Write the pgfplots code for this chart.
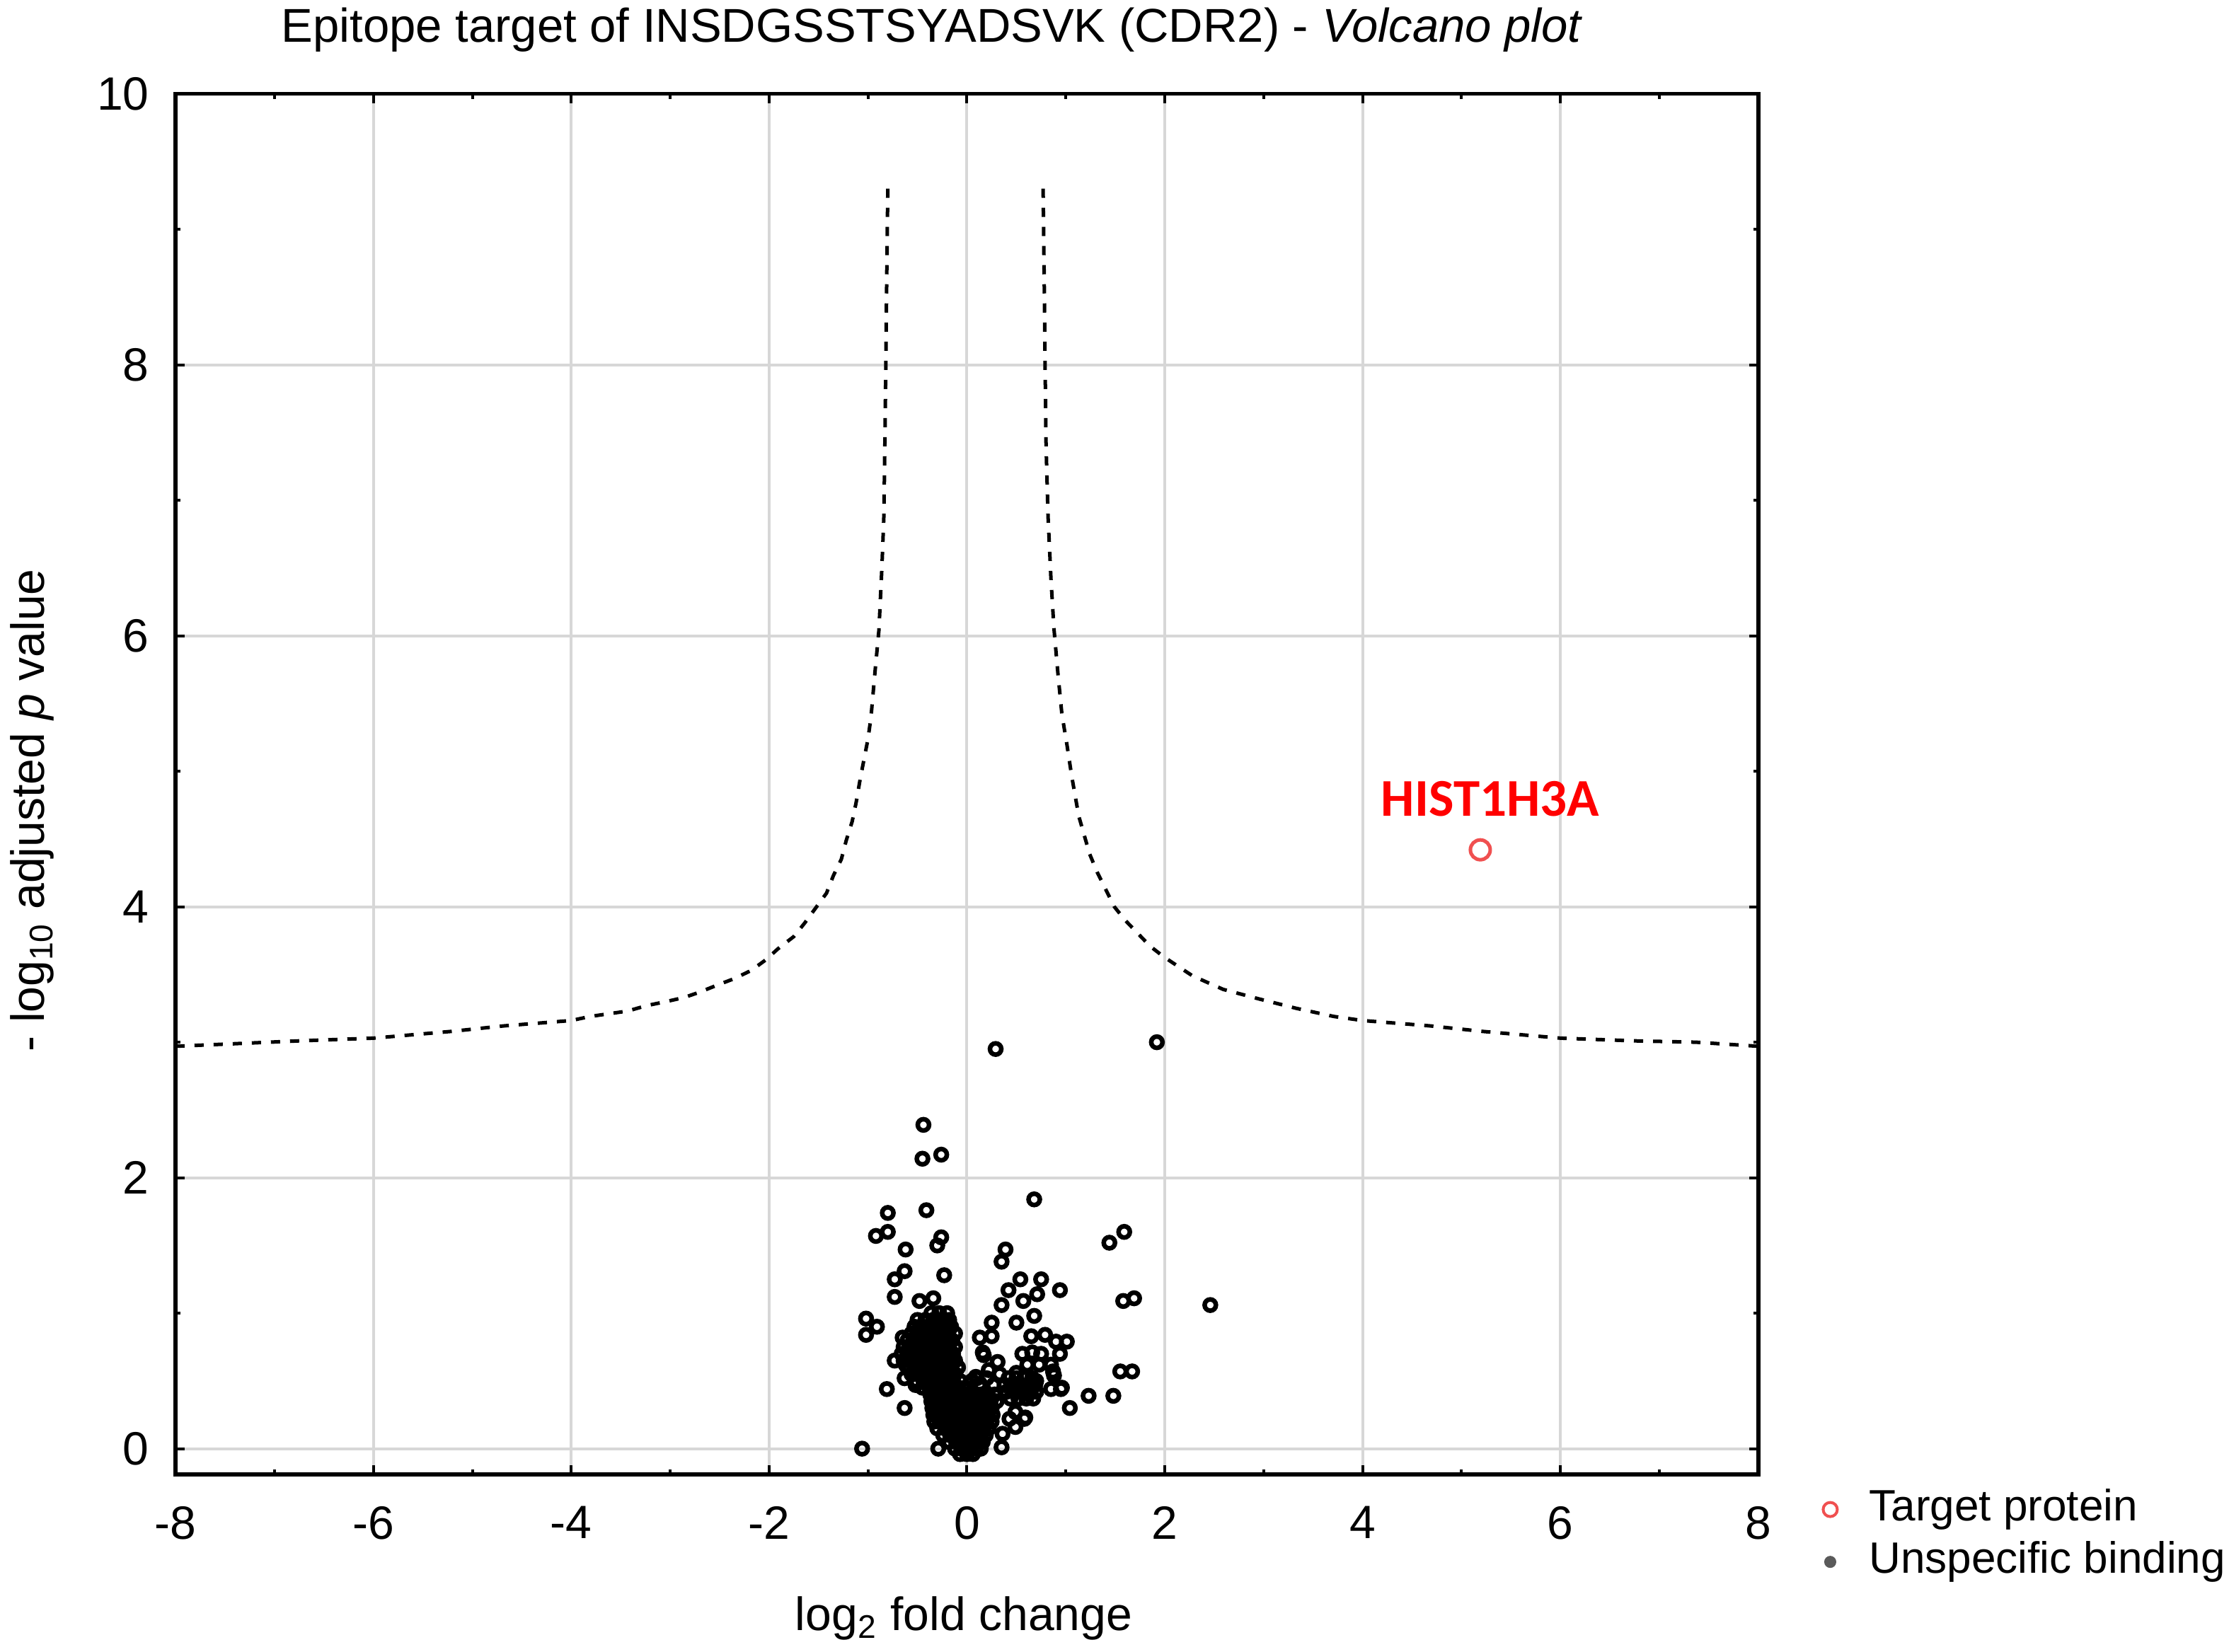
\documentclass[border=0pt]{standalone}
\usepackage{fontspec}
\setmainfont{Liberation Sans}
\newfontfamily\carlito{Carlito}
\usepackage{pgfplots}
\usepackage{pgfplotstable}
\pgfplotsset{compat=1.18}
\definecolor{gridgrey}{RGB}{215,215,215}
\definecolor{tred}{RGB}{240,80,80}
\definecolor{dotgrey}{RGB}{90,90,90}
\newcommand\fs{\fontsize{13.2pt}{15.8pt}\selectfont}
\newcommand\fl{\fontsize{12.4pt}{14.9pt}\selectfont}
\newcommand\ft{\fontsize{13.4pt}{16pt}\selectfont}

\pgfplotstableread{
x y
0.77 9.30
0.78 8.70
0.79 8.00
0.80 7.40
0.82 6.88
0.85 6.41
0.88 6.05
0.92 5.72
0.96 5.42
1.01 5.20
1.06 4.96
1.13 4.67
1.24 4.39
1.32 4.25
1.49 4.00
1.60 3.90
1.85 3.71
1.99 3.63
2.28 3.49
2.59 3.39
2.95 3.32
3.33 3.25
3.71 3.19
4.00 3.16
4.69 3.12
5.21 3.08
6.00 3.03
6.75 3.01
7.37 3.00
8.00 2.97
}\curveR

\pgfplotstableread{
x y
-0.80 9.30
-0.81 8.70
-0.82 8.00
-0.83 7.40
-0.84 6.88
-0.86 6.50
-0.89 6.04
-0.93 5.73
-0.97 5.40
-1.00 5.24
-1.04 5.09
-1.08 4.94
-1.12 4.77
-1.16 4.63
-1.22 4.49
-1.27 4.35
-1.35 4.23
-1.42 4.10
-1.52 4.00
-1.64 3.88
-1.75 3.78
-1.91 3.69
-2.03 3.61
-2.18 3.53
-2.35 3.47
-2.53 3.42
-2.70 3.37
-2.86 3.33
-3.04 3.30
-3.24 3.27
-3.43 3.23
-3.62 3.21
-3.81 3.19
-4.00 3.16
-4.69 3.12
-5.21 3.08
-6.00 3.03
-6.75 3.01
-7.37 2.99
-8.00 2.97
}\curveL

% sparse points
\pgfplotstableread{
x y
0.29 2.95
1.92 3.00
-0.44 2.39
-0.45 2.14
-0.26 2.17
0.68 1.84
-0.80 1.74
-0.41 1.76
-0.92 1.57
-0.80 1.60
-0.26 1.56
-0.30 1.50
-0.62 1.47
0.39 1.47
0.35 1.38
1.59 1.60
1.44 1.52
-0.63 1.31
-0.73 1.25
-0.23 1.28
0.54 1.25
0.75 1.25
0.42 1.17
0.94 1.17
0.71 1.14
-0.73 1.12
-0.48 1.09
-0.34 1.11
0.35 1.06
0.57 1.09
1.58 1.09
1.69 1.11
2.46 1.06
-1.02 0.96
-0.91 0.90
-1.02 0.84
0.68 0.98
0.50 0.93
0.25 0.93
0.13 0.82
0.25 0.83
-0.65 0.82
0.65 0.83
0.79 0.84
0.90 0.79
1.01 0.79
0.56 0.70
0.66 0.71
0.75 0.70
0.94 0.70
0.17 0.69
0.31 0.64
-0.73 0.65
-0.62 0.62
0.85 0.62
0.87 0.57
1.55 0.57
1.67 0.57
0.10 0.52
0.50 0.56
-0.63 0.52
-0.52 0.47
0.70 0.50
0.85 0.44
0.95 0.44
-0.81 0.44
1.23 0.39
1.48 0.39
1.04 0.30
-0.63 0.30
0.43 0.22
0.58 0.22
0.36 0.11
0.35 0.01
-1.06 0.00
-0.29 0.00
0.49 0.16
0.22 0.58
0.09 0.53
0.16 0.71
0.88 0.54
0.96 0.45
0.59 0.23
0.49 0.27
0.61 0.62
0.73 0.62
}\pts

% dense cluster near the origin
\pgfplotstableread{
x y
-0.36 1.00
-0.28 1.00
-0.20 1.00
-0.50 0.95
-0.42 0.95
-0.34 0.95
-0.26 0.95
-0.18 0.95
-0.53 0.90
-0.46 0.90
-0.39 0.90
-0.31 0.90
-0.24 0.90
-0.16 0.90
-0.56 0.85
-0.49 0.85
-0.41 0.85
-0.34 0.85
-0.27 0.85
-0.19 0.85
-0.12 0.85
-0.60 0.80
-0.52 0.80
-0.45 0.80
-0.38 0.80
-0.30 0.80
-0.23 0.80
-0.15 0.80
-0.64 0.75
-0.56 0.75
-0.49 0.75
-0.42 0.75
-0.34 0.75
-0.27 0.75
-0.20 0.75
-0.12 0.75
-0.66 0.70
-0.58 0.70
-0.51 0.70
-0.44 0.70
-0.36 0.70
-0.29 0.70
-0.22 0.70
-0.14 0.70
-0.64 0.65
-0.56 0.65
-0.49 0.65
-0.42 0.65
-0.34 0.65
-0.27 0.65
-0.20 0.65
-0.12 0.65
-0.60 0.60
-0.52 0.60
-0.45 0.60
-0.38 0.60
-0.30 0.60
-0.23 0.60
-0.16 0.60
-0.09 0.60
-0.56 0.55
-0.49 0.55
-0.41 0.55
-0.34 0.55
-0.27 0.55
-0.19 0.55
-0.12 0.55
-0.51 0.50
-0.44 0.50
-0.36 0.50
-0.29 0.50
-0.22 0.50
-0.14 0.50
-0.07 0.50
-0.45 0.45
-0.38 0.45
-0.31 0.45
-0.24 0.45
-0.16 0.45
-0.09 0.45
-0.02 0.45
-0.37 0.40
-0.30 0.40
-0.23 0.40
-0.15 0.40
-0.08 0.40
0.00 0.40
0.07 0.40
0.14 0.40
0.21 0.40
0.28 0.40
-0.36 0.35
-0.29 0.35
-0.21 0.35
-0.14 0.35
-0.06 0.35
0.01 0.35
0.09 0.35
0.16 0.35
0.24 0.35
0.30 0.35
-0.35 0.30
-0.28 0.30
-0.20 0.30
-0.13 0.30
-0.05 0.30
0.02 0.30
0.10 0.30
0.17 0.30
0.25 0.30
-0.34 0.25
-0.27 0.25
-0.19 0.25
-0.12 0.25
-0.04 0.25
0.03 0.25
0.11 0.25
0.18 0.25
0.26 0.25
-0.33 0.20
-0.26 0.20
-0.18 0.20
-0.11 0.20
-0.03 0.20
0.04 0.20
0.12 0.20
0.19 0.20
0.25 0.20
-0.30 0.15
-0.22 0.15
-0.15 0.15
-0.07 0.15
0.00 0.15
0.08 0.15
0.15 0.15
0.22 0.15
-0.24 0.10
-0.17 0.10
-0.10 0.10
-0.02 0.10
0.05 0.10
0.12 0.10
0.19 0.10
-0.18 0.05
-0.11 0.05
-0.04 0.05
0.03 0.05
0.10 0.05
0.16 0.05
-0.12 0.00
-0.05 0.00
0.02 0.00
0.09 0.00
0.14 0.00
-0.07 -0.04
0.00 -0.04
0.06 -0.04
0.05 0.50
0.13 0.48
0.20 0.52
0.27 0.47
0.33 0.55
0.42 0.52
0.50 0.52
0.58 0.52
0.66 0.52
0.38 0.47
0.46 0.47
0.54 0.47
0.62 0.47
0.69 0.47
0.40 0.42
0.48 0.42
0.56 0.42
0.64 0.42
0.70 0.42
0.44 0.37
0.52 0.37
0.60 0.37
0.67 0.37
}\dense

\begin{document}
\begin{tikzpicture}
\begin{axis}[
  scale only axis, width=447pt, height=390pt,
  xmin=-8, xmax=8, ymin=-0.19, ymax=10,
  xtick={-8,-6,...,8}, xticklabels={-8,-6,-4,-2,0,2,4,6,8},
  ytick={0,2,...,10}, yticklabels={0,2,4,6,8,10},
  minor x tick num=1, minor y tick num=1,
  tick align=inside, major tick length=2.6pt, minor tick length=1.4pt,
  tick style={black, line width=0.8pt},
  grid=major, major grid style={gridgrey, line width=0.8pt},
  axis line style={line width=1.1pt},
  ticklabel style={font=\fs},
  xticklabel style={yshift=-5.5pt},
  yticklabel style={xshift=-4pt},
  xlabel={log\textsubscript{2} fold change},
  ylabel={- log\textsubscript{10} adjusted \textit{p} value},
  xlabel style={font=\fs, at={(axis description cs:0.498,-0.104)}, anchor=center},
  ylabel style={font=\fs, at={(axis description cs:-0.0905,0.481)}, anchor=center, inner sep=3pt},
  title={Epitope target of INSDGSSTSYADSVK (CDR2) - \textit{Volcano plot}},
  title style={font=\ft, at={(axis description cs:0.478,1)}, anchor=base, yshift=8.6pt, inner sep=2.2pt},
  legend style={at={(axis description cs:1.041,-0.008)}, anchor=north west, draw=none, fill=none, font=\fl,
     inner sep=0pt, outer sep=0pt,
     nodes={inner sep=1pt, text height=9pt, text depth=2.6pt}, row sep=1.2pt, column sep=8pt},
  legend cell align=left,
]
\addlegendimage{only marks, mark=o, mark size=2pt, mark options={tred, line width=0.8pt}}
\addlegendentry{Target protein}
\addlegendimage{only marks, mark=*, mark size=1.5pt, mark options={dotgrey, draw=dotgrey}}
\addlegendentry{Unspecific binding}

\addplot[forget plot, black, line width=1pt, dash pattern=on 2.6pt off 2.8pt] table {\curveR};
\addplot[forget plot, black, line width=1pt, dash pattern=on 2.6pt off 2.8pt] table {\curveL};
\addplot[forget plot, only marks, mark=o, mark size=1.6pt, mark options={black, line width=1.3pt}] table {\pts};
\addplot[forget plot, only marks, mark=o, mark size=1.6pt, mark options={black, line width=1.3pt}] table {\dense};
\addplot[forget plot, only marks, mark=o, mark size=2.8pt, mark options={tred, line width=1pt}] coordinates {(5.19,4.42)};
\node[font=\carlito\bfseries\fontsize{15pt}{18pt}\selectfont, text=red, anchor=base] at (axis cs:5.29,4.67) {HIST1H3A};
\end{axis}
\end{tikzpicture}
\end{document}
